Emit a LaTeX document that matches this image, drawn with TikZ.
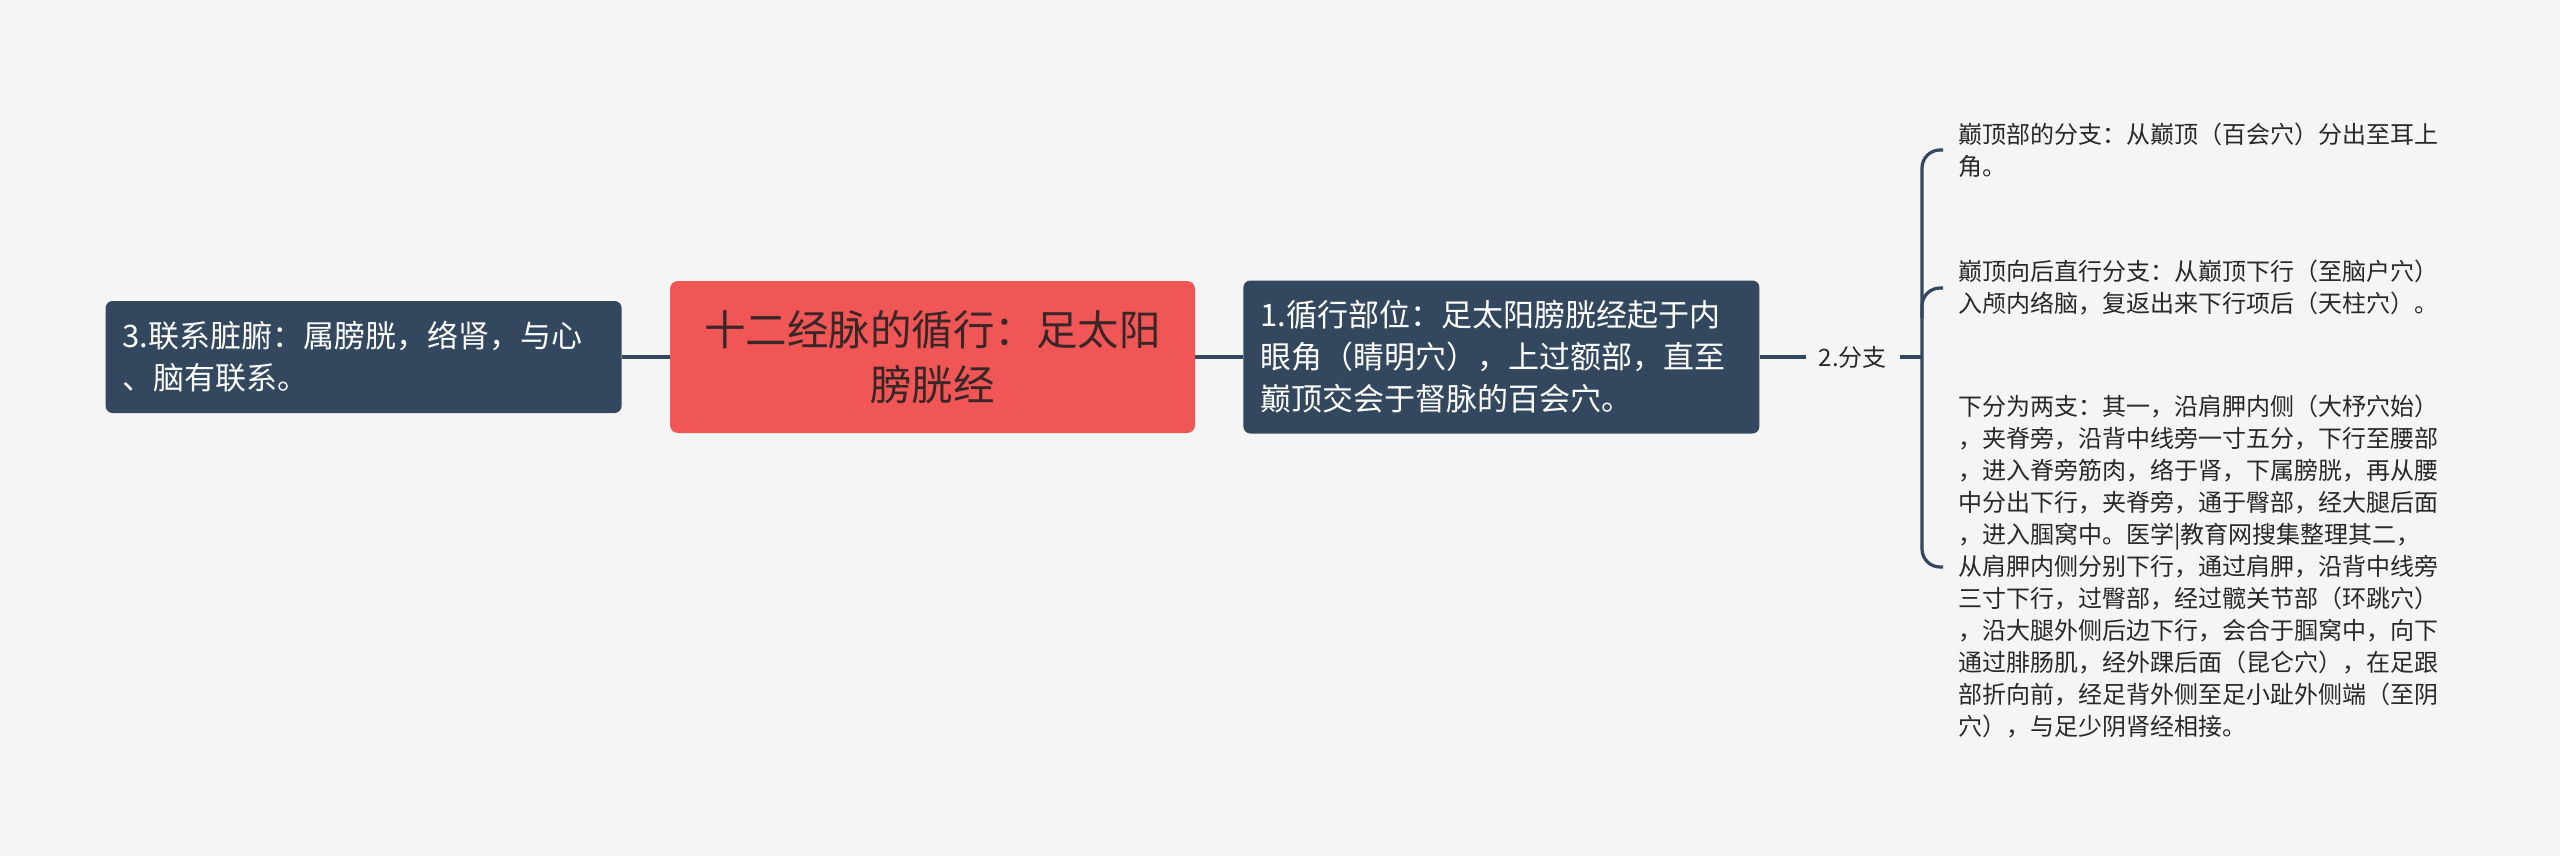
\documentclass[tikz,border=0pt]{standalone}
\usepackage{fontspec}
\newfontfamily\cjk{Noto Sans CJK SC}
\usetikzlibrary{positioning}
\definecolor{bgcol}{RGB}{245,245,245}
\definecolor{slate}{RGB}{51,72,94}
\definecolor{coral}{RGB}{240,86,86}
\definecolor{ink}{RGB}{58,38,38}
\definecolor{leafink}{RGB}{40,40,40}
\tikzset{
  topic/.style={
    fill=slate, rounded corners=7pt, text=white, align=left,
    text width=482pt, inner xsep=17pt, inner ysep=0pt,
    font=\cjk\fontsize{31}{42}\selectfont
  },
  root/.style={
    fill=coral, rounded corners=8pt, text=ink, align=center,
    minimum width=525pt, minimum height=152pt, inner sep=0pt,
    font=\cjk\fontsize{41.5}{55}\selectfont
  },
  leaf/.style={
    anchor=west, align=left, inner xsep=15pt, inner ysep=0pt, text=leafink,
    font=\cjk\fontsize{24}{32}\selectfont
  },
  link/.style={draw=slate, line width=3.2pt}
}

\begin{document}
\begin{tikzpicture}[x=1pt,y=-1pt]

  \fill[bgcol] (0,0) rectangle (2560,856);

  \node[root] (root) at (932.5,357) {十二经脉的循行：足太阳\\膀胱经};
  \node[topic, minimum height=112pt, left=48pt of root] (link3) {3.联系脏腑：属膀胱，络肾，与心\\、脑有联系。};
  \node[topic, minimum height=153pt, right=48pt of root] (route1) {1.循行部位：足太阳膀胱经起于内\\眼角（睛明穴），上过额部，直至\\巅顶交会于督脉的百会穴。};
  \node[right=46pt of route1, inner xsep=13pt, inner ysep=0pt, text=leafink,
        font=\cjk\fontsize{24}{32}\selectfont] (branch2) {2.分支};

  \coordinate (brk) at (1922,357);
  \node[leaf] (top) at (1943,150) {巅顶部的分支：从巅顶（百会穴）分出至耳上\\角。};
  \node[leaf] (back) at (1943,288) {巅顶向后直行分支：从巅顶下行（至脑户穴）\\入颅内络脑，复返出来下行项后（天柱穴）。};
  \node[leaf] (down) at (1943,567) {下分为两支：其一，沿肩胛内侧（大杼穴始）\\，夹脊旁，沿背中线旁一寸五分，下行至腰部\\，进入脊旁筋肉，络于肾，下属膀胱，再从腰\\中分出下行，夹脊旁，通于臀部，经大腿后面\\，进入腘窝中。医学|教育网搜集整理其二，\\从肩胛内侧分别下行，通过肩胛，沿背中线旁\\三寸下行，过臀部，经过髋关节部（环跳穴）\\，沿大腿外侧后边下行，会合于腘窝中，向下\\通过腓肠肌，经外踝后面（昆仑穴），在足跟\\部折向前，经足背外侧至足小趾外侧端（至阴\\穴），与足少阴肾经相接。};

  \draw[link] (link3.east) -- (root.west);
  \draw[link] (root.east) -- (route1.west);
  \draw[link] (route1.east) -- (branch2.west);
  \draw[link] (branch2.east) -- (brk);
  \draw[link, rounded corners=18pt] (top.west) -| (brk) |- (down.west);
  \coordinate (mid) at (brk |- back.west);
  \draw[link, rounded corners=18pt] ([yshift=-30pt]mid) |- (back.west);

\end{tikzpicture}
\end{document}
